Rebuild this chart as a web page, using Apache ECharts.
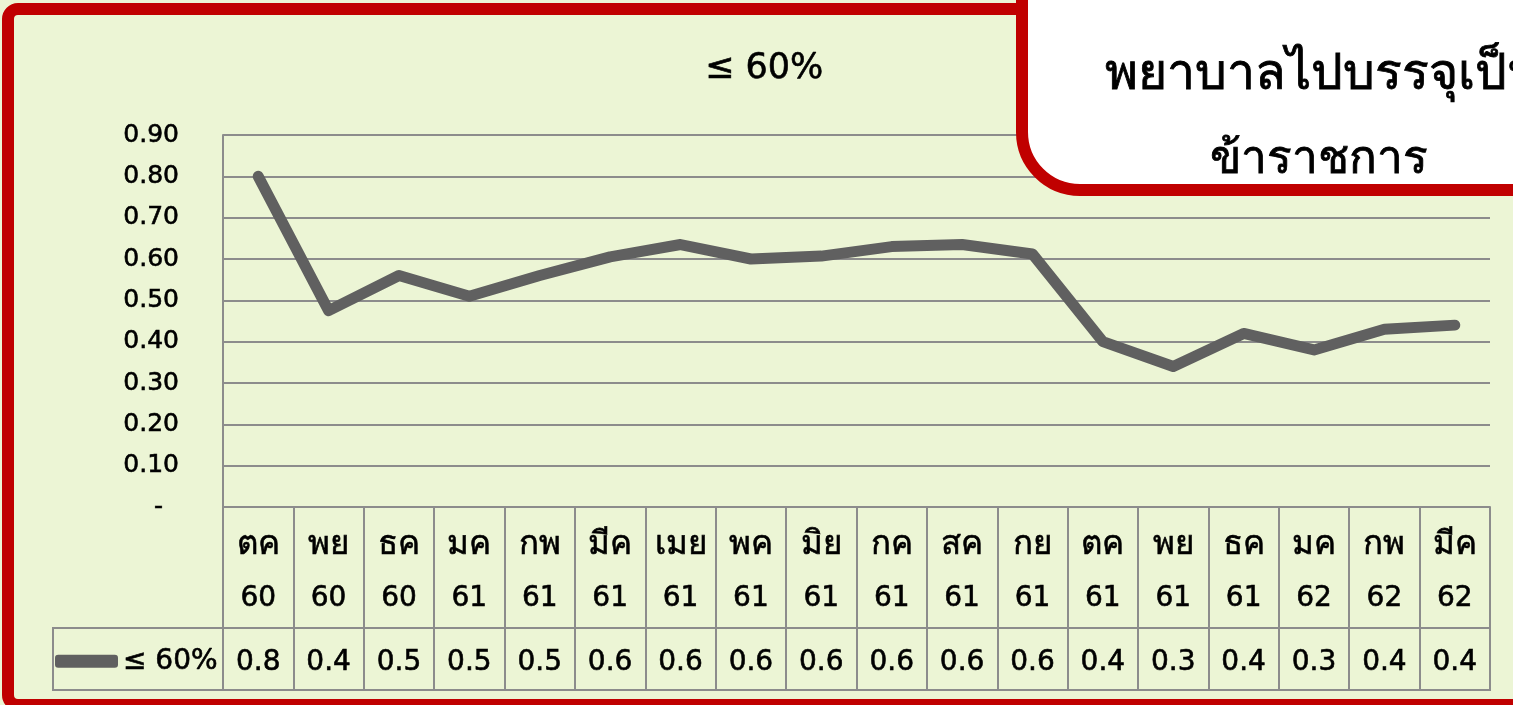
<!DOCTYPE html>
<html>
<head>
<meta charset="utf-8">
<title>≤ 60%</title>
<script src="https://cdn.jsdelivr.net/npm/echarts@6/dist/echarts.min.js"></script>
<style>
  html, body { margin: 0; padding: 0; background: #fff; }
  #chart { width: 1513px; height: 705px; }
</style>
</head>
<body>
<div id="chart"></div>
<script>
// เดือน / ปี (แกน X)
const months = ['ตค', 'พย', 'ธค', 'มค', 'กพ', 'มีค', 'เมย', 'พค', 'มิย', 'กค', 'สค', 'กย', 'ตค', 'พย', 'ธค', 'มค', 'กพ', 'มีค']
const years = ['60', '60', '60', '61', '61', '61', '61', '61', '61', '61', '61', '61', '61', '61', '61', '62', '62', '62']
// ค่าของเส้น ≤ 60%
const seriesName = '≤ 60%'
const values = [0.80, 0.475, 0.56, 0.51, 0.56, 0.605, 0.635, 0.60, 0.607, 0.63, 0.635, 0.612, 0.40, 0.34, 0.42, 0.38, 0.43, 0.44]
// ค่าที่แสดงในตารางข้อมูล
const tableValues = ['0.8', '0.4', '0.5', '0.5', '0.5', '0.6', '0.6', '0.6', '0.6', '0.6', '0.6', '0.6', '0.4', '0.3', '0.4', '0.3', '0.4', '0.4']
// ป้ายแกน Y
const yTicks = [0, 0.1, 0.2, 0.3, 0.4, 0.5, 0.6, 0.7, 0.8, 0.9]

const FONT = '"DejaVu Sans", Verdana, sans-serif'
const GRID_COLOR = '#8c8c8c'
const RED = '#c00000'
// เส้นขอบตัวอักษรบาง ๆ ให้ตัวหนังสือดูหนาขึ้นเหมือนต้นฉบับ
const heavy = { textBorderColor: '#000', textBorderWidth: 0.6 }

let myChart = echarts.init(document.getElementById('chart'))

const categories = months.map((m, i) => m + '\n' + years[i])

var option = {
  backgroundColor: '#ecf5d5',
  textStyle: { fontFamily: FONT, color: '#000' },
  color: ['#606060'],
  title: {
    text: seriesName,
    left: 700,
    top: 46,
    textStyle: Object.assign({ fontFamily: FONT, fontSize: 35, fontWeight: 'normal', color: '#000' }, heavy)
  },
  legend: {
    left: 55,
    top: 647,
    padding: 0,
    itemGap: 0,
    icon: 'roundRect',
    itemWidth: 63,
    itemHeight: 13,
    textStyle: Object.assign({ fontFamily: FONT, fontSize: 28, color: '#000' }, heavy),
    data: [seriesName]
  },
  grid: {
    left: 223,
    right: 23,
    top: 135,
    bottom: 198
  },
  xAxis: {
    type: 'category',
    data: categories,
    boundaryGap: true,
    axisLine: { show: true, lineStyle: { color: GRID_COLOR, width: 2 } },
    axisTick: { show: true, interval: 0, length: 183, lineStyle: { color: GRID_COLOR, width: 2 } },
    axisLabel: {
      interval: 0,
      margin: 12,
      formatter: (val, idx) => {
        const parts = val.split('\n')
        return '{m|' + parts[0] + '}\n{a|' + parts[1] + '}\n{b|' + tableValues[idx] + '}'
      },
      rich: {
        m: Object.assign({ fontFamily: FONT, fontSize: 33, lineHeight: 53, color: '#000' }, heavy),
        a: Object.assign({ fontFamily: FONT, fontSize: 28, lineHeight: 53, color: '#000' }, heavy),
        b: Object.assign({ fontFamily: FONT, fontSize: 28, lineHeight: 75, color: '#000' }, heavy)
      }
    }
  },
  yAxis: {
    type: 'value',
    min: 0,
    max: 0.9,
    interval: 0.1,
    axisLine: { show: true, lineStyle: { color: GRID_COLOR, width: 2 } },
    axisTick: { show: false },
    splitLine: { show: true, lineStyle: { color: GRID_COLOR, width: 2 } },
    axisLabel: Object.assign({
      margin: 44,
      fontFamily: FONT,
      fontSize: 25,
      color: '#000',
      formatter: v => {
        const t = yTicks.find(x => Math.abs(x - v) < 1e-6)
        return t === 0 ? '-  ' : t.toFixed(2)
      }
    }, heavy)
  },
  graphic: [
    // กรอบแถวข้อมูลของตาราง
    {
      type: 'rect',
      z: 1,
      shape: { x: 53, y: 628, width: 1437, height: 62 },
      style: { fill: 'none', stroke: GRID_COLOR, lineWidth: 2 }
    },
    // กรอบแดงรอบภาพ
    {
      type: 'rect',
      z: 100,
      shape: { x: 8, y: 9, width: 1700, height: 696, r: 10 },
      style: { fill: 'none', stroke: RED, lineWidth: 12 }
    },
    // กล่องหัวเรื่อง
    {
      type: 'rect',
      z: 101,
      shape: { x: 1022, y: -40, width: 700, height: 230, r: [0, 0, 0, 58] },
      style: { fill: '#fff', stroke: RED, lineWidth: 12 }
    },
    {
      type: 'text',
      z: 102,
      left: 1105,
      top: 51,
      style: { text: 'พยาบาลไปบรรจุเป็น', fontFamily: FONT, fontSize: 50, fill: '#000', stroke: '#000', lineWidth: 0.8 }
    },
    {
      type: 'text',
      z: 102,
      left: 1210,
      top: 138,
      style: { text: 'ข้าราชการ', fontFamily: FONT, fontSize: 46, fill: '#000', stroke: '#000', lineWidth: 0.8 }
    }
  ],
  series: [{
    name: seriesName,
    type: 'line',
    data: values,
    symbol: 'none',
    lineStyle: { width: 11, color: '#606060', cap: 'round', join: 'round' },
    itemStyle: { color: '#606060' }
  }]
}

myChart.setOption(option)
</script>
</body>
</html>
